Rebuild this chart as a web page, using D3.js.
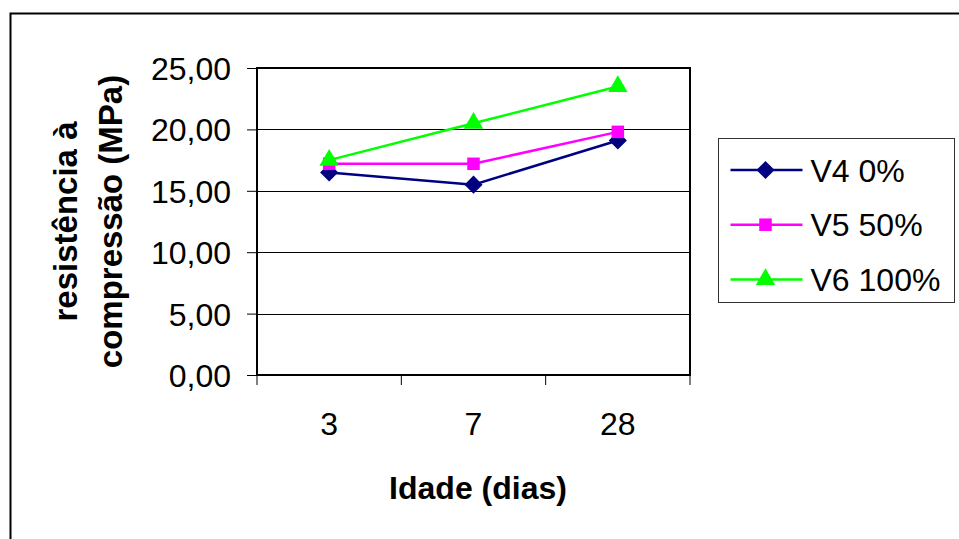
<!DOCTYPE html>
<html lang="pt">
<head>
    <meta charset="UTF-8">
    <title>Resistência à compressão</title>
    <script src="https://d3js.org/d3.v7.min.js"></script>
    <style>
        body { margin: 0; background: #fff; }
        text { font-family: "Liberation Sans", Arial, sans-serif; fill: #000; }
    </style>
</head>
<body>
</body>
<script>
    const width = 959;
    const height = 539;

    // dados
    const idades = ["3", "7", "28"];
    const yTicks = [0, 5, 10, 15, 20, 25];
    const seriesNames = ["V4 0%", "V5 50%", "V6 100%"];
    const v4 = [16.5, 15.5, 19.1];
    const v5 = [17.2, 17.2, 19.8];
    const v6 = [17.5, 20.5, 23.5];

    const series = [
        {name: seriesNames[0], values: v4, color: "#000080", symbol: d3.symbolDiamond2, size: 210},
        {name: seriesNames[1], values: v5, color: "#ff00ff", symbol: d3.symbolSquare2, size: 200},
        {name: seriesNames[2], values: v6, color: "#00ff00", symbol: d3.symbolTriangle2, size: 270}
    ];

    const plot = {left: 257, right: 690, top: 68, bottom: 375};

    const svg = d3.select("body").append("svg")
        .attr("width", width)
        .attr("height", height);

    // moldura externa
    svg.append("rect")
        .attr("x", 10.5).attr("y", 13.5)
        .attr("width", 1000).attr("height", 600)
        .attr("fill", "none").attr("stroke", "#000").attr("stroke-width", 2);

    const x = d3.scaleBand().domain(idades).range([plot.left, plot.right]);
    const y = d3.scaleLinear().domain([0, 25]).range([plot.bottom, plot.top]);

    // linhas de grade
    svg.append("g").selectAll("line")
        .data(yTicks)
        .enter().append("line")
        .attr("x1", plot.left).attr("x2", plot.right)
        .attr("y1", d => Math.round(y(d)) + 0.5).attr("y2", d => Math.round(y(d)) + 0.5)
        .attr("stroke", "#000").attr("stroke-width", 1);

    // eixo y
    const yAxis = svg.append("g")
        .attr("transform", `translate(${plot.left},0)`)
        .call(d3.axisLeft(y).tickValues(yTicks).tickSize(10).tickPadding(16)
            .tickFormat(d => d3.format(".2f")(d).replace(".", ",")));
    yAxis.select(".domain").remove();
    yAxis.selectAll("text").style("font-size", "32px").attr("dy", "0.36em");

    // eixo x
    const xAxis = svg.append("g")
        .attr("transform", `translate(0,${plot.bottom})`)
        .call(d3.axisBottom(x).tickSize(0).tickPadding(37));
    xAxis.select(".domain").remove();
    xAxis.selectAll("text").style("font-size", "32px");
    xAxis.selectAll(".edge")
        .data([plot.left, plot.left + x.step(), plot.left + 2 * x.step(), plot.right])
        .enter().append("line")
        .attr("x1", d => d).attr("x2", d => d)
        .attr("y1", 0).attr("y2", 10)
        .attr("stroke", "#000");

    // borda da área do gráfico
    svg.append("rect")
        .attr("x", plot.left).attr("y", plot.top)
        .attr("width", plot.right - plot.left).attr("height", plot.bottom - plot.top)
        .attr("fill", "none").attr("stroke", "#000").attr("stroke-width", 2);

    // séries
    const line = d3.line()
        .x((d, i) => x(idades[i]) + x.bandwidth() / 2)
        .y(d => y(d));

    series.forEach(s => {
        svg.append("path")
            .attr("d", line(s.values))
            .attr("fill", "none").attr("stroke", s.color).attr("stroke-width", 2.5);
        svg.append("g").selectAll("path")
            .data(s.values)
            .enter().append("path")
            .attr("transform", (d, i) => `translate(${x(idades[i]) + x.bandwidth() / 2},${y(d)})`)
            .attr("d", d3.symbol().type(s.symbol).size(s.size))
            .attr("fill", s.color);
    });

    // títulos dos eixos
    svg.append("text")
        .attr("x", 478).attr("y", 499)
        .attr("text-anchor", "middle")
        .style("font-size", "32px").style("font-weight", "bold")
        .text("Idade (dias)");

    const yTitle = svg.append("text")
        .attr("transform", `translate(0,${(plot.top + plot.bottom) / 2}) rotate(-90)`)
        .attr("text-anchor", "middle")
        .style("font-size", "33px").style("font-weight", "bold");
    yTitle.append("tspan").attr("x", 0).attr("y", 77).text("resistência à");
    yTitle.append("tspan").attr("x", 0).attr("y", 122).text("compressão (MPa)");

    // legenda
    const legend = svg.append("g").attr("transform", "translate(718.5,138.5)");
    legend.append("rect")
        .attr("width", 236).attr("height", 164)
        .attr("fill", "#fff").attr("stroke", "#333").attr("stroke-width", 1);
    const item = legend.selectAll(".item")
        .data(series)
        .enter().append("g")
        .attr("transform", (d, i) => `translate(0,${31.5 + i * 54.7})`);
    item.append("line")
        .attr("x1", 12).attr("x2", 84)
        .attr("stroke", d => d.color).attr("stroke-width", 2.5);
    item.append("path")
        .attr("transform", "translate(47,0)")
        .attr("d", d => d3.symbol().type(d.symbol).size(d.size)())
        .attr("fill", d => d.color);
    item.append("text")
        .attr("x", 92).attr("dy", "0.36em")
        .style("font-size", "32px")
        .text(d => d.name);
</script>
</html>
